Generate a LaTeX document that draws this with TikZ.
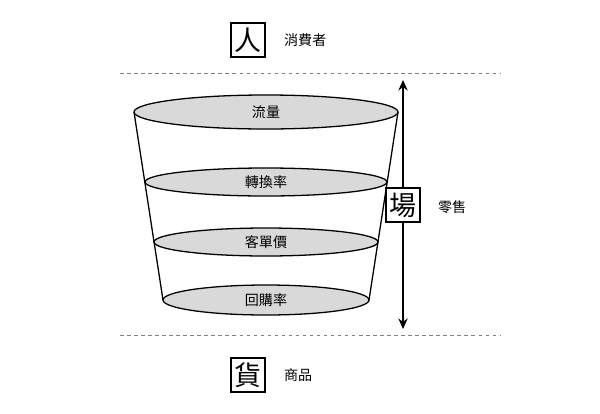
\documentclass[tikz,border=0pt]{standalone}
\usepackage{fontspec}
\newfontfamily\cjk{Noto Sans CJK TC}
\usetikzlibrary{arrows.meta}

\begin{document}
\begin{tikzpicture}[x=0.03cm,y=-0.03cm,
  bigchar/.style={draw,line width=1.1pt,fill=white,minimum size=34*0.03cm,inner sep=0pt,font=\cjk\fontsize{23}{23}\selectfont},
  smallchar/.style={font=\cjk\fontsize{12}{12}\selectfont},
  layer/.style={draw,line width=1.1pt,fill=black!15}]

  \useasboundingbox (0,0) rectangle (600,413);

  \node[bigchar] (ren) at (248,40) {人};
  \node[smallchar,anchor=west] (renlab) at (280,40) {消費者};

  \draw[dashed,gray,line width=0.8pt] (120,73)--(500,73);
  \draw[dashed,gray,line width=0.8pt] (120,335)--(500,335);

  % funnel
  \draw[line width=1.1pt] (134,112)--(163,300);
  \draw[line width=1.1pt] (398,112)--(369,300);
  \draw[layer] (266,112) ellipse [x radius=132, y radius=17];
  \draw[layer] (266,182) ellipse [x radius=121, y radius=14];
  \draw[layer] (266,242) ellipse [x radius=112, y radius=14];
  \draw[layer] (266,300) ellipse [x radius=103, y radius=15];

  \node[smallchar] (liu) at (266,112) {流量};
  \node[smallchar] (zhuan) at (266,182) {轉換率};
  \node[smallchar] (ke) at (266,242) {客單價};
  \node[smallchar] (hui) at (266,300) {回購率};

  \coordinate (top) at (403,80);
  \coordinate (bot) at (403,329);
  \draw[line width=1.3pt,{Stealth[length=9pt,width=8pt]}-{Stealth[length=9pt,width=8pt]}] (top)--(bot);
  \node[bigchar] (chang) at (403,205) {場};
  \node[smallchar,anchor=west] (changlab) at (434,207) {零售};

  \node[bigchar] (huo) at (248,375) {貨};
  \node[smallchar,anchor=west] (huolab) at (280,375) {商品};
\end{tikzpicture}
\end{document}
